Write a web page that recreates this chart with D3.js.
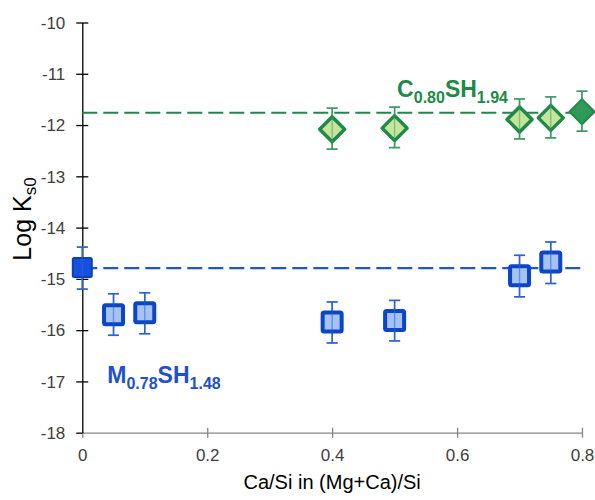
<!DOCTYPE html>
<html><head><meta charset="utf-8">
<script src="https://cdn.jsdelivr.net/npm/d3@7"></script>
<style>body{margin:0;background:#fff}svg{display:block}text{font-family:"Liberation Sans",Arial,sans-serif}</style>
</head><body><svg id="c" width="595" height="500"></svg>
<script>
// ---- data ----
const xTicks = [0, 0.2, 0.4, 0.6, 0.8];
const xTickLabels = ["0", "0.2", "0.4", "0.6", "0.8"];
const yTicks = [-18, -17, -16, -15, -14, -13, -12, -11, -10];
const yTickLabels = ["-18", "-17", "-16", "-15", "-14", "-13", "-12", "-11", "-10"];

const mshX = [0, 0.05, 0.1, 0.4, 0.5, 0.7, 0.75];
const mshY = [-14.78, -15.70, -15.66, -15.84, -15.81, -14.94, -14.67];
const mshLo = [-15.20, -16.10, -16.07, -16.25, -16.21, -15.35, -15.09];
const mshHi = [-14.38, -15.29, -15.27, -15.45, -15.42, -14.54, -14.28];
const mshRef = -14.79;

const cshX = [0.4, 0.5, 0.7, 0.75, 0.8];
const cshY = [-12.08, -12.06, -11.89, -11.86, -11.74];
const cshLo = [-12.47, -12.44, -12.27, -12.25, -12.12];
const cshHi = [-11.67, -11.65, -11.49, -11.45, -11.34];
const cshRef = -11.76;

// ---- chart ----
const svg = d3.select("#c");
const x = d3.scaleLinear().domain([0, 0.8]).range([82.3, 582]);
const y = d3.scaleLinear().domain([-18, -10]).range([432.7, 22.5]);

// x axis
const xa = svg.append("g").attr("transform", `translate(0,${y(-18)})`)
  .call(d3.axisBottom(x).tickValues(xTicks).tickFormat((d, i) => xTickLabels[i]).tickSizeOuter(0).tickSizeInner(5));
xa.select(".domain").attr("stroke", "#868686").attr("stroke-width", 1.3);
xa.selectAll(".tick line").attr("stroke", "#868686").attr("stroke-width", 1.3).attr("y1", -5).attr("y2", 5);
xa.selectAll(".tick text").attr("font-size", 17).attr("fill", "#404040").attr("y", 16);

// y axis
const ya = svg.append("g").attr("transform", `translate(${x(0)},0)`)
  .call(d3.axisLeft(y).tickValues(yTicks).tickFormat((d, i) => yTickLabels[i]).tickSizeOuter(0).tickSizeInner(6));
ya.select(".domain").attr("stroke", "#000").attr("stroke-width", 1.3);
ya.selectAll(".tick line").attr("stroke", "#000").attr("stroke-width", 1.3).attr("x1", -6).attr("x2", 6);
ya.selectAll(".tick text").attr("font-size", 17).attr("fill", "#404040").attr("x", -17).attr("dy", "0.34em");
ya.selectAll(".tick").filter(d => d === -18).select("line").attr("x2", 0);
xa.selectAll(".tick").filter(d => d === 0).select("line").attr("y1", 0);

// reference dashed lines
svg.append("line").attr("x1", x(0)).attr("x2", x(0.8)).attr("y1", y(cshRef)).attr("y2", y(cshRef))
  .attr("stroke", "#1e8a48").attr("stroke-width", 2.2).attr("stroke-dasharray", "15,6");
svg.append("line").attr("x1", x(0)).attr("x2", x(0.8)).attr("y1", y(mshRef)).attr("y2", y(mshRef))
  .attr("stroke", "#1f55d0").attr("stroke-width", 2.2).attr("stroke-dasharray", "15,6");

// error bars helper
function errBars(xs, lo, hi, color) {
  const g = svg.append("g").attr("stroke", color).attr("stroke-width", 1.6).attr("fill", "none");
  xs.forEach((d, i) => {
    g.append("line").attr("x1", x(d)).attr("x2", x(d)).attr("y1", y(lo[i])).attr("y2", y(hi[i]));
    g.append("line").attr("x1", x(d) - 5.5).attr("x2", x(d) + 5.5).attr("y1", y(lo[i])).attr("y2", y(lo[i]));
    g.append("line").attr("x1", x(d) - 5.5).attr("x2", x(d) + 5.5).attr("y1", y(hi[i])).attr("y2", y(hi[i]));
  });
  return g;
}

// blue squares
errBars(mshX, mshLo, mshHi, "#2d62d2");
svg.append("g").selectAll("rect").data(mshX).join("rect")
  .attr("x", d => x(d) - 9.5).attr("y", (d, i) => y(mshY[i]) - 9.5)
  .attr("width", 19).attr("height", 19).attr("rx", 1.5)
  .attr("fill", (d, i) => i === 0 ? "#1650de" : "#a6c3f6")
  .attr("stroke", (d, i) => i === 0 ? "#0c3fb8" : "#0b45c8")
  .attr("stroke-width", (d, i) => i === 0 ? 2 : 4);
// error lines visible through the markers
errBars(mshX, mshLo, mshHi, "#2d62d2").attr("stroke-opacity", 0.55).attr("stroke-width", 1.4);

// green diamonds
errBars(cshX, cshLo, cshHi, "#3c9c64");
const ds = 12.5;
svg.append("g").selectAll("path").data(cshX).join("path")
  .attr("d", (d, i) => {
    const cx = x(d), cy = y(cshY[i]);
    return `M${cx},${cy - ds}L${cx + ds},${cy}L${cx},${cy + ds}L${cx - ds},${cy}Z`;
  })
  .attr("fill", (d, i) => i === cshX.length - 1 ? "#2f9a58" : "#c4e59b")
  .attr("stroke", "#1f8a48").attr("stroke-width", (d, i) => i === cshX.length - 1 ? 2 : 3.5)
  .attr("stroke-linejoin", "round");
errBars(cshX, cshLo, cshHi, "#3c9c64").attr("stroke-opacity", 0.5).attr("stroke-width", 1.4);

// series labels
function formula(tx, ty, parts, color) {
  const t = svg.append("text").attr("x", tx).attr("y", ty).attr("fill", color)
    .attr("font-weight", "bold").attr("font-size", 23);
  parts.forEach(p => {
    const s = t.append("tspan").text(p[0]);
    if (p[1]) s.attr("font-size", 16).attr("dy", 6);
    else if (p[2]) s.attr("dy", -6);
  });
}
formula(x(0.504), y(-11.45), [["C"], ["0.80", 1], ["SH", 0, 1], ["1.94", 1]], "#1e8a48");
formula(x(0.04), y(-17.04), [["M"], ["0.78", 1], ["SH", 0, 1], ["1.48", 1]], "#1f50d0");

// axis titles
svg.append("text").attr("x", (x(0) + x(0.8)) / 2).attr("y", 489).attr("text-anchor", "middle")
  .attr("font-size", 20).attr("fill", "#000").text("Ca/Si in (Mg+Ca)/Si");
const yt = svg.append("text").attr("transform", "translate(31,219) rotate(-90)").attr("text-anchor", "middle")
  .attr("font-size", 25).attr("fill", "#000");
yt.append("tspan").text("Log K");
yt.append("tspan").text("s0").attr("font-size", 17).attr("dy", 5);
</script></body></html>
